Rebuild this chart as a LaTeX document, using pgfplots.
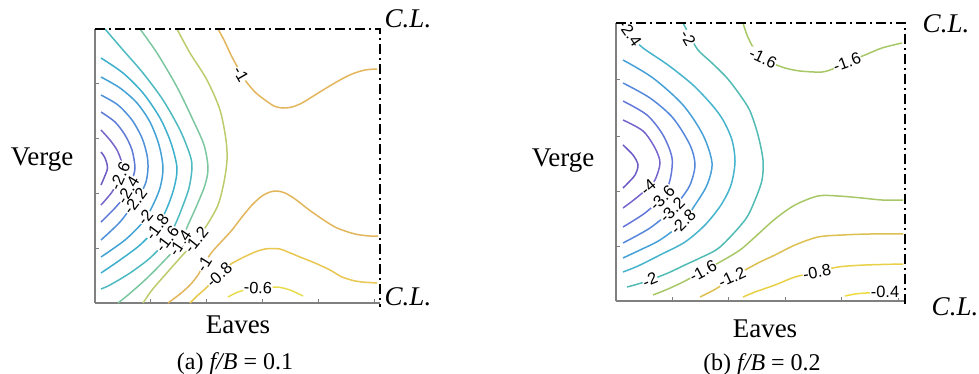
\documentclass[border=0pt]{standalone}
\usepackage{fontspec}
\setmainfont{Liberation Serif}
\newfontfamily\lbl{Liberation Sans}
\usepackage{pgfplots}
\pgfplotsset{compat=1.18}
\definecolor{a28}{HTML}{6A5CC0}\definecolor{a26}{HTML}{7466C8}\definecolor{a24}{HTML}{5E7AD6}
\definecolor{a22}{HTML}{4F90DA}\definecolor{a20}{HTML}{42A2D6}\definecolor{a18}{HTML}{3CB0CC}
\definecolor{a16}{HTML}{4CBAC0}\definecolor{a14}{HTML}{7CC6A0}\definecolor{a12}{HTML}{BCCC6C}
\definecolor{a10}{HTML}{E2B65C}\definecolor{a08}{HTML}{E8C850}\definecolor{a06}{HTML}{E8DC50}
\definecolor{b44}{HTML}{6A5CC4}\definecolor{b40}{HTML}{7466CC}\definecolor{b36}{HTML}{6378D8}
\definecolor{b32}{HTML}{5688DC}\definecolor{b28}{HTML}{47A0D8}\definecolor{b24}{HTML}{45B4CC}
\definecolor{b20}{HTML}{52BCB4}\definecolor{b16}{HTML}{A8C868}\definecolor{b12}{HTML}{DCC050}
\definecolor{b08}{HTML}{E8D048}\definecolor{b04}{HTML}{ECDC40}
\tikzset{clab/.style={font=\lbl\fontsize{8.2}{9}\selectfont, fill=white, inner sep=0.2pt},
  mybig/.style={font=\fontsize{13.5}{15}\selectfont, anchor=base},
  mycapt/.style={font=\fontsize{12}{14}\selectfont, anchor=base},
  mycl/.style={font=\itshape\fontsize{13.5}{15}\selectfont, anchor=base},
  mydd/.style={line width=1.1pt, dash pattern=on 5pt off 2pt on 1pt off 2pt}}
\pgfplotsset{panel/.style={x=0.5pt, y=0.5pt, axis x line*=bottom, axis y line*=left,
  axis line style={draw=gray, line width=0.6pt}, tick align=inside, major tick length=2pt,
  tick style={draw=gray, line width=0.5pt}, xticklabels={}, yticklabels={}, clip=false,
  every axis plot/.append style={smooth, line width=0.75pt, no marks}}}
\begin{document}
\begin{tikzpicture}
\path[use as bounding box] (0,0) rectangle (489.5pt,-187pt);
% ---------------- panel (a)
\begin{axis}[panel, anchor=south west, at={(47.5pt,-151.5pt)},
  xmin=95, xmax=380, ymin=-303, ymax=-29,
  xtick={150.8,206.6,262.4,318.2,374}, ytick={-248,-193,-138,-83}]
\addplot[a28] coordinates {(101,-152)(105,-158)(107.5,-168)(104,-178)(101,-185)};
\addplot[a26] coordinates {(101,-130)(110,-140)(117,-150)(121,-160)(122,-168)(120,-177)(112,-192)(101,-205)};
\addplot[a24] coordinates {(101,-112)(115,-122)(125,-135)(132,-150)(135,-168)(132,-180)(128,-192)(115,-208)(101,-222)};
\addplot[a22] coordinates {(101,-95)(118,-105)(132,-120)(142,-138)(147,-155)(148,-168)(146,-182)(140,-195)(135,-202)(120,-222)(101,-240)};
\addplot[a20] coordinates {(101,-77)(120,-88)(137,-103)(150,-122)(159,-145)(163,-168)(160,-188)(152,-207)(143,-222)(125,-240)(101,-257)};
\addplot[a18] coordinates {(101,-58)(123,-73)(143,-93)(160,-118)(171,-143)(177,-168)(174,-188)(167,-208)(157,-227)(140,-245)(120,-260)(101,-273)};
\addplot[a16] coordinates {(105,-29)(123,-50)(143,-73)(163,-100)(180,-130)(190,-155)(192,-168)(189,-188)(182,-208)(175,-225)(167,-240)(150,-258)(130,-273)(110,-285)(101,-289)};
\addplot[a14] coordinates {(140,-29)(157,-53)(177,-87)(193,-120)(204,-145)(208,-168)(205,-185)(197,-205)(188,-225)(180,-243)(163,-262)(145,-280)(128,-295)(118,-303)};
\addplot[a12] coordinates {(177,-29)(190,-53)(207,-80)(220,-110)(226,-140)(227,-160)(224,-182)(218,-205)(207,-225)(196,-240)(180,-258)(165,-275)(152,-290)(143,-303)};
\addplot[a10] coordinates {(168,-303)(180,-294)(190,-285)(198,-275)(204,-264)(212,-252)(222,-241)(232,-230)(242,-217)(252,-205)(262,-196)(270,-192)(277,-191)(285,-193)(295,-199)(312,-212)(335,-227)(355,-234)(370,-236)(378,-236)};
\addplot[a10] coordinates {(218,-29)(224,-40)(231,-55)(238,-68)(243,-77)(248,-84)(256,-93)(265,-100)(274,-106)(283,-108)(292,-107)(302,-103)(315,-95)(328,-87)(340,-80)(352,-74)(365,-70)(377,-69)};
\addplot[a08] coordinates {(190,-303)(197,-296)(205,-289)(212,-282)(219,-275)(228,-266)(240,-259)(255,-252)(265,-249)(272,-248.5)(280,-249)(288,-252)(300,-257)(315,-263)(330,-270)(342,-277)(355,-281)(362,-282)(377,-283)};
\addplot[a06] coordinates {(228,-297)(238,-292)(250,-289)(262,-288)(277,-287)(290,-290)(303,-296)};
\node[clab, rotate=66] at (axis cs:120,-176) {-2.6};
\node[clab, rotate=59] at (axis cs:128,-190) {-2.4};
\node[clab, rotate=53] at (axis cs:135,-201) {-2.2};
\node[clab, rotate=51] at (axis cs:145,-217) {-2};
\node[clab, rotate=54] at (axis cs:157,-227) {-1.8};
\node[clab, rotate=53] at (axis cs:167,-239) {-1.6};
\node[clab, rotate=56] at (axis cs:180,-243) {-1.4};
\node[clab, rotate=51] at (axis cs:196,-240) {-1.2};
\node[clab, rotate=58] at (axis cs:204,-264) {-1};
\node[clab, rotate=42] at (axis cs:219,-275) {-0.8};
\node[clab, rotate=-3] at (axis cs:258,-288) {-0.6};
\node[clab, rotate=-60] at (axis cs:241,-74) {-1};
\draw[mydd] (axis cs:95,-29) -- (axis cs:380,-29) -- (axis cs:380,-307);
\node[mybig] at (axis cs:42,-165) {Verge};
\node[mybig] at (axis cs:238,-333) {Eaves};
\node[mycapt] at (axis cs:235,-369) {(a) \textit{f/B} = 0.1};
\node[mycl] at (axis cs:408,-27) {C.L.};
\node[mycl] at (axis cs:408,-305) {C.L.};
\end{axis}
% ---------------- panel (b)
\begin{axis}[panel, anchor=south west, at={(308pt,-150.5pt)},
  xmin=616, xmax=905, ymin=-301, ymax=-23,
  xtick={672.4,728.8,785.2,841.6,898}, ytick={-246,-191,-136,-80}]
\addplot[b44] coordinates {(623,-145)(633,-155)(638,-165)(635,-175)(628,-183)(623,-188)};
\addplot[b40] coordinates {(623,-120)(643,-131)(655,-148)(660,-163)(655,-180)(648,-188)(635,-199)(623,-208)};
\addplot[b36] coordinates {(623,-101)(647,-115)(663,-135)(672,-158)(670,-180)(662,-197)(645,-213)(623,-227)};
\addplot[b32] coordinates {(623,-83)(650,-98)(673,-118)(690,-145)(695,-165)(690,-185)(680,-200)(672,-210)(650,-228)(623,-243)};
\addplot[b28] coordinates {(623,-60)(653,-78)(683,-105)(703,-135)(712,-163)(707,-185)(695,-205)(682,-223)(660,-240)(640,-250)(623,-258)};
\addplot[b24] coordinates {(620,-27)(632,-37)(643,-48)(668,-65)(693,-85)(712,-105)(723,-120)(732,-140)(735,-162)(731,-185)(721,-205)(705,-225)(685,-242)(660,-255)(638,-266)(623,-272)};
\addplot[b20] coordinates {(683,-23)(690,-36)(698,-50)(712,-63)(727,-78)(740,-95)(750,-111)(758,-135)(763,-160)(762,-180)(755,-200)(745,-220)(720,-247)(700,-258)(687,-264)(668,-273)(650,-280)(638,-284)(627,-287)};
\addplot[b16] coordinates {(743,-23)(747,-35)(753,-47)(762,-57)(772,-63)(785,-68)(800,-71)(822,-72)(835,-68)(847,-62)(865,-55)(882,-48)(902,-43)};
\addplot[b16] coordinates {(653,-295)(668,-289)(685,-281)(703,-271)(720,-262)(740,-250)(755,-237)(775,-219)(795,-205)(818,-196)(838,-196)(862,-198)(882,-200)(903,-200)};
\addplot[b12] coordinates {(700,-297)(712,-291)(722,-285)(732,-277)(745,-270)(760,-262)(775,-255)(795,-245)(818,-237)(842,-235)(870,-234)(903,-234)};
\addplot[b08] coordinates {(743,-297)(755,-292)(775,-285)(795,-277)(817,-272)(838,-267)(865,-265)(903,-264)};
\addplot[b04] coordinates {(845,-296)(855,-294)(866,-293)(883,-292)(900,-292)};
\node[clab, rotate=-55] at (axis cs:630,-33) {-2.4};
\node[clab, rotate=-60] at (axis cs:688,-38) {-2};
\node[clab, rotate=-25] at (axis cs:763,-58) {-1.6};
\node[clab, rotate=20] at (axis cs:847,-62) {-1.6};
\node[clab, rotate=40] at (axis cs:648,-187) {-4};
\node[clab, rotate=45] at (axis cs:662,-198) {-3.6};
\node[clab, rotate=45] at (axis cs:672,-210) {-3.2};
\node[clab, rotate=45] at (axis cs:683,-222) {-2.8};
\node[clab, rotate=22] at (axis cs:650,-280) {-2};
\node[clab, rotate=28] at (axis cs:703,-271) {-1.6};
\node[clab, rotate=25] at (axis cs:732,-277) {-1.2};
\node[clab, rotate=10] at (axis cs:817,-272) {-0.8};
\node[clab, rotate=0] at (axis cs:885,-292) {-0.4};
\draw[mydd] (axis cs:616,-23) -- (axis cs:905,-23) -- (axis cs:905,-305);
\node[mybig] at (axis cs:563,-166) {Verge};
\node[mybig] at (axis cs:765,-337) {Eaves};
\node[mycapt] at (axis cs:762,-370) {(b) \textit{f/B} = 0.2};
\node[mycl] at (axis cs:946,-33) {C.L.};
\node[mycl] at (axis cs:955,-315) {C.L.};
\end{axis}
\end{tikzpicture}
\end{document}
